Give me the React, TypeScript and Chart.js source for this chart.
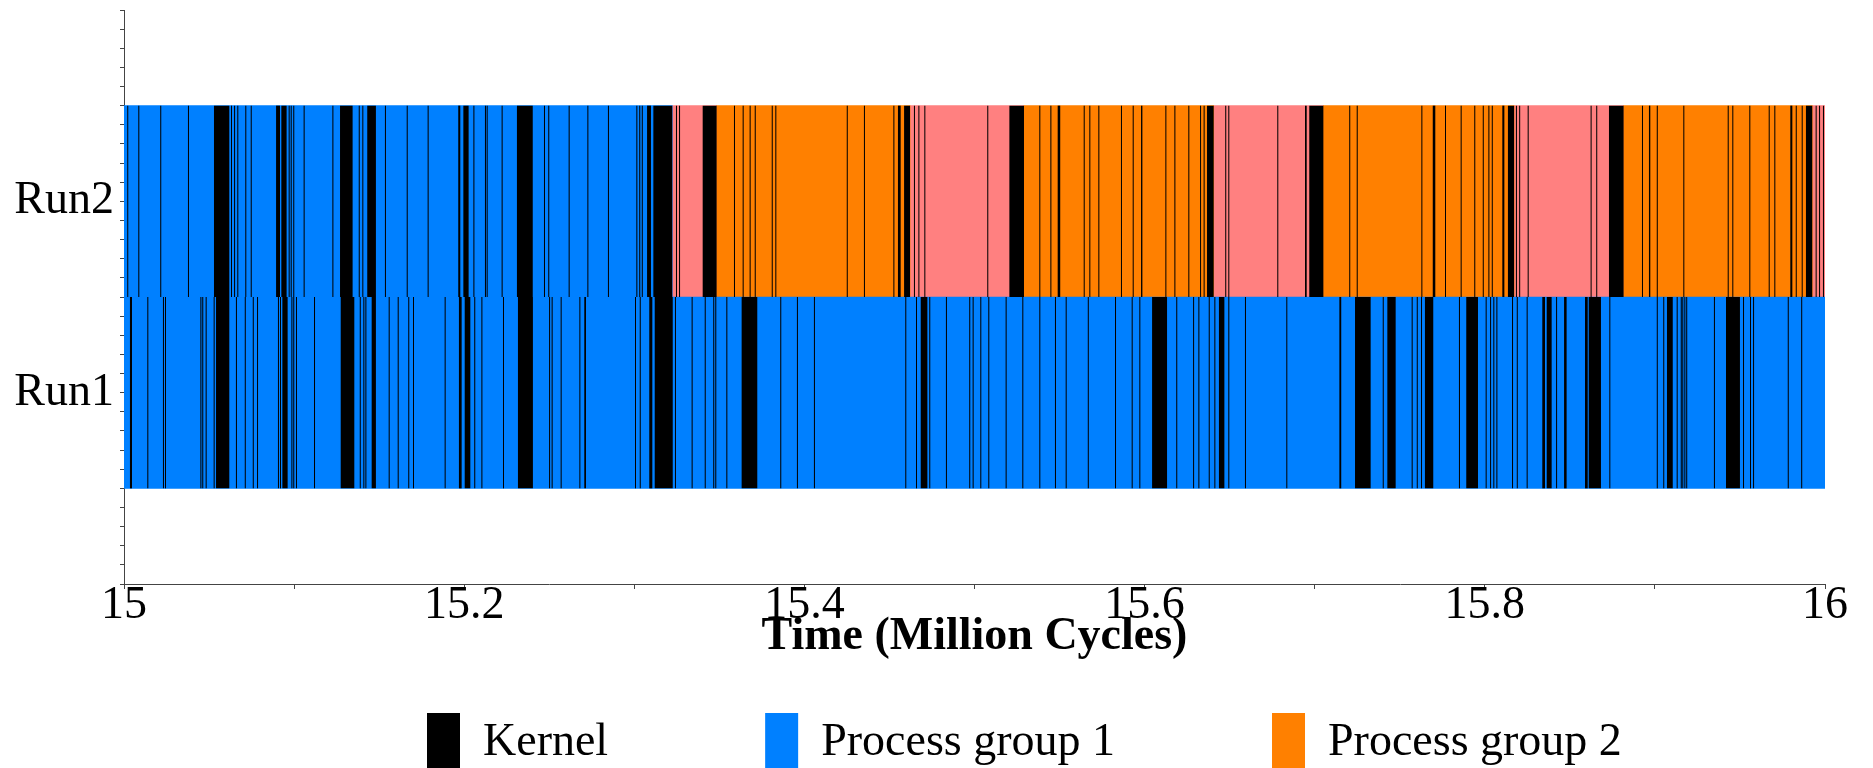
import { useEffect, useRef } from 'react';
import { Chart, registerables } from 'chart.js';

Chart.register(...registerables);

// ---------------- data ----------------
const runs = ['Run1', 'Run2'];
const timeTickLabels = [15, 15.2, 15.4, 15.6, 15.8, 16];
const seriesNames = ['Kernel', 'Process group 1', 'Process group 2', 'Process group 3'];
const seriesColors = ['#000000', '#0080FF', '#FF8000', '#FF8080'];

// Kernel intervals (million cycles)
const kernelRun1: [number, number][] = [
  [15.0035, 15.0047], [15.0137, 15.0143], [15.0229, 15.0235], [15.0241, 15.0247], [15.0449, 15.0455],
  [15.0460, 15.0466], [15.0480, 15.0486], [15.0527, 15.0533], [15.0541, 15.0619], [15.0658, 15.0664],
  [15.0710, 15.0716], [15.0757, 15.0763], [15.0782, 15.0788], [15.0905, 15.0911], [15.0917, 15.0923],
  [15.0931, 15.0962], [15.0984, 15.0990], [15.0995, 15.1001], [15.1011, 15.1017], [15.1117, 15.1123],
  [15.1274, 15.1354], [15.1386, 15.1392], [15.1407, 15.1413], [15.1419, 15.1425], [15.1456, 15.1481],
  [15.1556, 15.1562], [15.1609, 15.1615], [15.1671, 15.1677], [15.1699, 15.1705], [15.1885, 15.1891],
  [15.1969, 15.1985], [15.2003, 15.2036], [15.2059, 15.2065], [15.2101, 15.2107], [15.2228, 15.2234],
  [15.2316, 15.2404], [15.2499, 15.2505], [15.2514, 15.2520], [15.2567, 15.2573], [15.2677, 15.2683],
  [15.2706, 15.2716], [15.3004, 15.3010], [15.3032, 15.3038], [15.3088, 15.3106], [15.3120, 15.3226],
  [15.3239, 15.3245], [15.3337, 15.3343], [15.3414, 15.3420], [15.3464, 15.3470], [15.3476, 15.3482],
  [15.3541, 15.3547], [15.3631, 15.3723], [15.3858, 15.3864], [15.3956, 15.3962], [15.4056, 15.4062],
  [15.4593, 15.4599], [15.4656, 15.4662], [15.4684, 15.4723], [15.4734, 15.4740], [15.4832, 15.4838],
  [15.4969, 15.4975], [15.4989, 15.4995], [15.5034, 15.5040], [15.5081, 15.5087], [15.5183, 15.5189],
  [15.5281, 15.5287], [15.5381, 15.5387], [15.5473, 15.5479], [15.5536, 15.5542], [15.5666, 15.5672],
  [15.5826, 15.5832], [15.5924, 15.5930], [15.5969, 15.5975], [15.6044, 15.6132], [15.6186, 15.6192],
  [15.6285, 15.6291], [15.6316, 15.6322], [15.6377, 15.6383], [15.6410, 15.6416], [15.6437, 15.6469],
  [15.6492, 15.6498], [15.6590, 15.6596], [15.6833, 15.6839], [15.7145, 15.7156], [15.7237, 15.7329],
  [15.7400, 15.7406], [15.7427, 15.7476], [15.7570, 15.7576], [15.7600, 15.7606], [15.7625, 15.7631],
  [15.7648, 15.7697], [15.7848, 15.7854], [15.7891, 15.7960], [15.8005, 15.8011], [15.8031, 15.8037],
  [15.8050, 15.8056], [15.8068, 15.8074], [15.8160, 15.8166], [15.8188, 15.8194], [15.8246, 15.8252],
  [15.8338, 15.8354], [15.8364, 15.8393], [15.8419, 15.8425], [15.8466, 15.8481], [15.8589, 15.8605],
  [15.8611, 15.8683], [15.8732, 15.8738], [15.9011, 15.9017], [15.9049, 15.9055], [15.9071, 15.9105],
  [15.9128, 15.9134], [15.9152, 15.9158], [15.9161, 15.9167], [15.9173, 15.9179], [15.9184, 15.9190],
  [15.9347, 15.9353], [15.9418, 15.9500], [15.9518, 15.9524], [15.9559, 15.9565], [15.9577, 15.9583],
  [15.9781, 15.9787], [15.9860, 15.9866],
];

const kernelRun2: [number, number][] = [
  [15.0019, 15.0025], [15.0084, 15.0090], [15.0213, 15.0219], [15.0376, 15.0382], [15.0529, 15.0619],
  [15.0629, 15.0635], [15.0647, 15.0653], [15.0666, 15.0672], [15.0713, 15.0719], [15.0745, 15.0751],
  [15.0894, 15.0917], [15.0925, 15.0956], [15.0968, 15.0974], [15.0980, 15.0986], [15.0995, 15.1001],
  [15.1056, 15.1062], [15.1225, 15.1231], [15.1270, 15.1344], [15.1380, 15.1386], [15.1401, 15.1407],
  [15.1430, 15.1481], [15.1534, 15.1540], [15.1662, 15.1668], [15.1785, 15.1791], [15.1965, 15.1977],
  [15.1995, 15.2026], [15.2054, 15.2060], [15.2122, 15.2128], [15.2132, 15.2138], [15.2220, 15.2226],
  [15.2310, 15.2403], [15.2469, 15.2475], [15.2494, 15.2500], [15.2614, 15.2620], [15.2724, 15.2730],
  [15.2845, 15.2851], [15.3012, 15.3018], [15.3029, 15.3035], [15.3044, 15.3050], [15.3075, 15.3098],
  [15.3112, 15.3223], [15.3245, 15.3251], [15.3263, 15.3269], [15.3402, 15.3484], [15.3586, 15.3592],
  [15.3637, 15.3643], [15.3678, 15.3684], [15.3708, 15.3714], [15.3808, 15.3814], [15.3829, 15.3835],
  [15.4249, 15.4255], [15.4350, 15.4356], [15.4523, 15.4529], [15.4550, 15.4566], [15.4586, 15.4621],
  [15.4644, 15.4650], [15.4670, 15.4676], [15.4705, 15.4711], [15.5075, 15.5081], [15.5205, 15.5291],
  [15.5381, 15.5387], [15.5446, 15.5452], [15.5489, 15.5504], [15.5642, 15.5648], [15.5675, 15.5681],
  [15.5728, 15.5734], [15.5861, 15.5867], [15.5930, 15.5936], [15.5979, 15.5987], [15.6122, 15.6128],
  [15.6175, 15.6181], [15.6257, 15.6263], [15.6326, 15.6332], [15.6347, 15.6353], [15.6367, 15.6406],
  [15.6474, 15.6480], [15.6492, 15.6498], [15.6780, 15.6786], [15.6943, 15.6953], [15.6968, 15.7051],
  [15.7203, 15.7209], [15.7247, 15.7253], [15.7627, 15.7633], [15.7694, 15.7709], [15.7766, 15.7772],
  [15.7858, 15.7864], [15.7938, 15.7944], [15.7988, 15.7994], [15.8021, 15.8027], [15.8041, 15.8047],
  [15.8103, 15.8115], [15.8136, 15.8172], [15.8183, 15.8189], [15.8202, 15.8208], [15.8252, 15.8258],
  [15.8622, 15.8628], [15.8655, 15.8661], [15.8730, 15.8816], [15.8924, 15.8930], [15.8965, 15.8973],
  [15.9011, 15.9017], [15.9167, 15.9173], [15.9428, 15.9434], [15.9455, 15.9461], [15.9555, 15.9561],
  [15.9669, 15.9675], [15.9702, 15.9708], [15.9796, 15.9808], [15.9828, 15.9834], [15.9863, 15.9869],
  [15.9888, 15.9925], [15.9945, 15.9951], [15.9965, 15.9971], [15.9988, 15.9994],
];

// Process group intervals
const group1Run1: [number, number][] = [[15, 16]];
const group1Run2: [number, number][] = [[15, 15.3223]];
const group2Run1: [number, number][] = [];
const group2Run2: [number, number][] = [
  [15.3484, 15.4621], [15.5291, 15.6406], [15.7051, 15.8172], [15.8816, 15.9925],
];
const group3Run1: [number, number][] = [];
const group3Run2: [number, number][] = [
  [15.3223, 15.3484], [15.4621, 15.5291], [15.6406, 15.7051], [15.8172, 15.8816], [15.9925, 16],
];

// ---------------- layout constants ----------------
const FONT = "'Liberation Serif', 'Times New Roman', Times, serif";
const LEGEND_PAD = 157;
const LEGEND_LEFT = 427;
const LEGEND_TOP = 713;

function toBars(r1: [number, number][], r2: [number, number][]) {
  const out: { x: [number, number]; y: number }[] = [];
  r1.forEach(([s, e]) => out.push({ x: [s, e], y: runs.indexOf('Run1') + 1 }));
  r2.forEach(([s, e]) => out.push({ x: [s, e], y: runs.indexOf('Run2') + 1 }));
  return out;
}

const legendPlacement = {
  id: 'legendPlacement',
  afterLayout(chart: any) {
    const lg = chart.legend;
    if (!lg) return;
    const w = lg.width;
    const h = lg.height;
    lg.left = LEGEND_LEFT - LEGEND_PAD;
    lg.right = lg.left + w;
    lg.top = LEGEND_TOP - LEGEND_PAD;
    lg.bottom = lg.top + h;
  },
};

export default function App() {
  const ref = useRef<HTMLCanvasElement | null>(null);

  useEffect(() => {
    document.body.style.margin = '0';
    const canvas = ref.current;
    if (!canvas) return;

    const dataSets = [
      toBars(kernelRun1, kernelRun2),
      toBars(group1Run1, group1Run2),
      toBars(group2Run1, group2Run2),
      toBars(group3Run1, group3Run2),
    ];

    const chart = new Chart(canvas, {
      type: 'bar',
      data: {
        datasets: dataSets.map((d, i) => ({
          label: seriesNames[i],
          data: d as any,
          backgroundColor: seriesColors[i],
          borderColor: seriesColors[i],
          borderWidth: 0,
          borderSkipped: false,
          grouped: false,
          categoryPercentage: 1,
          barPercentage: 1,
          inflateAmount: i === 0 ? 0 : 'auto',
          xAxisID: 'x',
          yAxisID: 'y',
        })),
      },
      options: {
        indexAxis: 'y',
        responsive: false,
        animation: false,
        events: [],
        layout: { padding: { top: 10, right: 48, left: 0, bottom: 0 } },
        font: { family: FONT },
        scales: {
          x: {
            type: 'linear',
            position: 'bottom',
            min: 15,
            max: 16,
            offset: false,
            ticks: {
              stepSize: 0.1,
              autoSkip: false,
              maxRotation: 0,
              padding: -6,
              color: '#000',
              font: { family: FONT, size: 46, lineHeight: 1 },
              callback: (v: any) => {
                const lab = timeTickLabels.find((t) => Math.abs(t - Number(v)) < 1e-6);
                return lab !== undefined ? String(lab) : '';
              },
            },
            grid: { drawOnChartArea: false, drawTicks: true, tickLength: 5, color: '#444', offset: false },
            border: { display: true, color: '#444', width: 1 },
            title: {
              display: true,
              text: 'Time (Million Cycles)',
              color: '#000',
              font: { family: FONT, size: 46, weight: 'bold', lineHeight: 1 },
              padding: { top: -9, bottom: 0 },
            },
          },
          y: {
            type: 'linear',
            position: 'left',
            weight: 1,
            min: 0,
            max: 3,
            offset: false,
            ticks: {
              stepSize: 1,
              autoSkip: false,
              padding: -2,
              color: '#000',
              font: { family: FONT, size: 46, lineHeight: 1 },
              callback: (v: any) => {
                const n = Number(v);
                return Number.isInteger(n) && n >= 1 && n <= runs.length ? runs[n - 1] : '';
              },
            },
            grid: { display: false, offset: false },
            border: { display: false },
            afterFit: (s: any) => {
              s.width = 120;
              s.paddingTop = 0;
              s.paddingBottom = 0;
            },
          },
          y2: {
            type: 'linear',
            position: 'left',
            weight: 0,
            min: 0,
            max: 3,
            offset: false,
            ticks: { stepSize: 0.1, display: false, autoSkip: false },
            grid: { drawOnChartArea: false, drawTicks: true, tickLength: 4, color: '#444', offset: false },
            border: { display: true, color: '#444', width: 1 },
            afterFit: (s: any) => {
              s.width = 4;
              s.paddingTop = 0;
              s.paddingBottom = 0;
            },
          },
        },
        plugins: {
          tooltip: { enabled: false },
          legend: {
            display: true,
            position: 'bottom',
            align: 'start',
            labels: {
              boxWidth: 33,
              boxHeight: 60,
              padding: LEGEND_PAD,
              color: '#000',
              font: { family: FONT, size: 46 },
              filter: (item: any) => item.datasetIndex < 3,
            },
          },
        },
      } as any,
      plugins: [legendPlacement],
    });

    return () => chart.destroy();
  }, []);

  return (
    <div style={{ width: 1873, height: 768, overflow: 'hidden', background: '#fff' }}>
      <canvas ref={ref} width={1873} height={887} style={{ display: 'block' }} />
    </div>
  );
}
